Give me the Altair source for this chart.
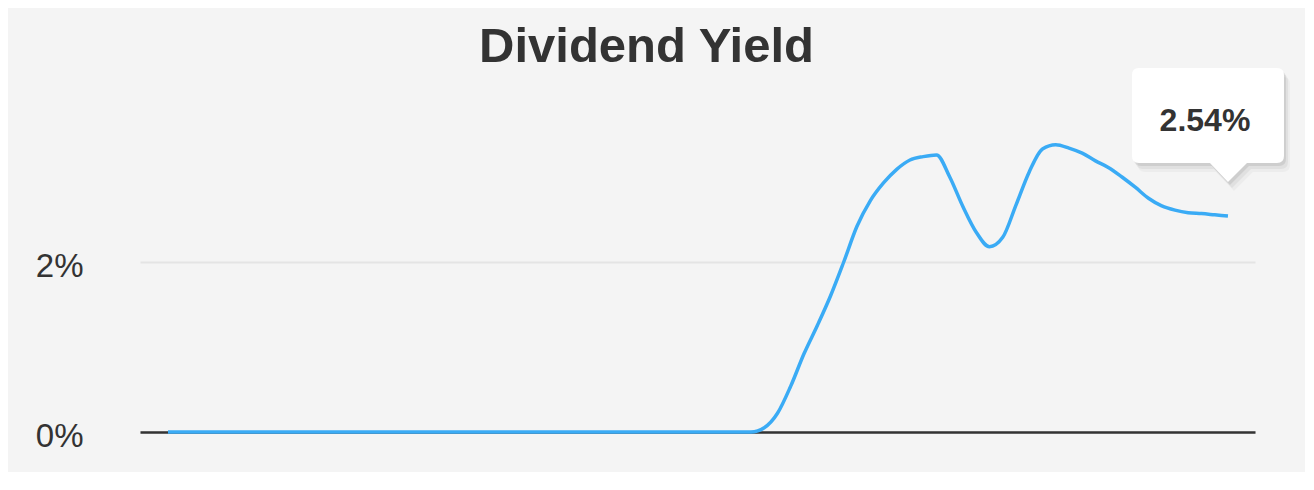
import altair as alt
import pandas as pd

# Data (half-quarter steps, dividend yield in %)
period = list(range(81))
yield_pct = [0.0] * 45 + [
    0.05, 0.22, 0.54, 0.92, 1.25, 1.60, 2.00, 2.42, 2.72, 2.93,
    3.09, 3.20, 3.24, 3.26, 3.00, 2.65, 2.35, 2.18, 2.29, 2.67,
    3.06, 3.33, 3.38, 3.34, 3.28, 3.19, 3.11, 3.00, 2.88, 2.75,
    2.66, 2.61, 2.58, 2.57, 2.555, 2.54,
]
y_ticks = [0, 2]
title_text = ["Dividend Yield"]

df = pd.DataFrame({"period": period, "yield_pct": yield_pct})

FONT = "Liberation Sans"
TEXT = "#333333"
LINE = "#3aabf5"

x_scale = alt.Scale(domain=[-2.113, 82.04], nice=False, zero=False)
y_scale = alt.Scale(domain=[0, 4], nice=False)

x_enc = alt.X("period:Q", scale=x_scale,
              axis=alt.Axis(title=None, labels=False, ticks=False, grid=False,
                            domain=True, domainColor="#333333", domainWidth=2.5))
y_enc = alt.Y("yield_pct:Q", scale=y_scale,
              axis=alt.Axis(title=None, values=y_ticks, labelExpr="datum.value + '%'",
                            labelFont=FONT, labelFontSize=33, labelColor=TEXT,
                            labelPadding=57, ticks=False, tickSize=0, domain=False,
                            grid=True, gridColor="#e4e4e4", gridWidth=2,
                            labelBaseline="middle", labelAlign="right", labelOffset=4))

base = alt.Chart(df)

line = base.mark_line(color=LINE, strokeWidth=3.5, interpolate="monotone").encode(
    x=x_enc, y=y_enc
)

last = base.transform_joinaggregate(maxp="max(period)").transform_filter(
    "datum.period == datum.maxp"
).transform_calculate(label="format(datum.yield_pct, '.2f') + '%'")

callout_path = ("M -0.89 -1.48 L 0.49 -1.48 Q 0.56 -1.48 0.56 -1.41 L 0.56 -0.60 "
                "Q 0.56 -0.53 0.49 -0.53 L 0.19 -0.53 L 0 -0.34 L -0.18 -0.53 "
                "L -0.89 -0.53 Q -0.96 -0.53 -0.96 -0.60 L -0.96 -1.41 "
                "Q -0.96 -1.48 -0.89 -1.48 Z")

shadows = []
for off, op in [((6, 9), 0.03), ((4, 6), 0.05), ((2, 3), 0.08)]:
    shadows.append(
        last.mark_point(shape=callout_path, size=40000, filled=True, color="#000000",
                        opacity=op, strokeWidth=0, xOffset=off[0], yOffset=off[1]).encode(
            x="period:Q", y="yield_pct:Q")
    )

box = last.mark_point(shape=callout_path, size=40000, filled=True, color="#ffffff",
                      opacity=1, strokeWidth=0).encode(x="period:Q", y="yield_pct:Q")

label = last.mark_text(font=FONT, fontSize=32, fontWeight="bold", color=TEXT,
                       dx=-23, dy=-95, align="center", baseline="middle").encode(
    x="period:Q", y="yield_pct:Q", text="label:N"
)

title = alt.Chart(pd.DataFrame({"title": title_text})).mark_text(
    font=FONT, fontSize=49, fontWeight="bold", color=TEXT,
    align="center", baseline="alphabetic"
).encode(x=alt.value(506.5), y=alt.value(-30), text="title:N")

chart = alt.layer(line, *shadows, box, label, title).properties(
    width=1115,
    height=340,
    background="#f4f4f4",
    autosize=alt.AutoSizeParams(type="none"),
    padding={"left": 132, "top": 84, "right": 50, "bottom": 40},
).configure_view(stroke=None)

chart.save("out.html", embed_options={"renderer": "svg", "actions": False})
